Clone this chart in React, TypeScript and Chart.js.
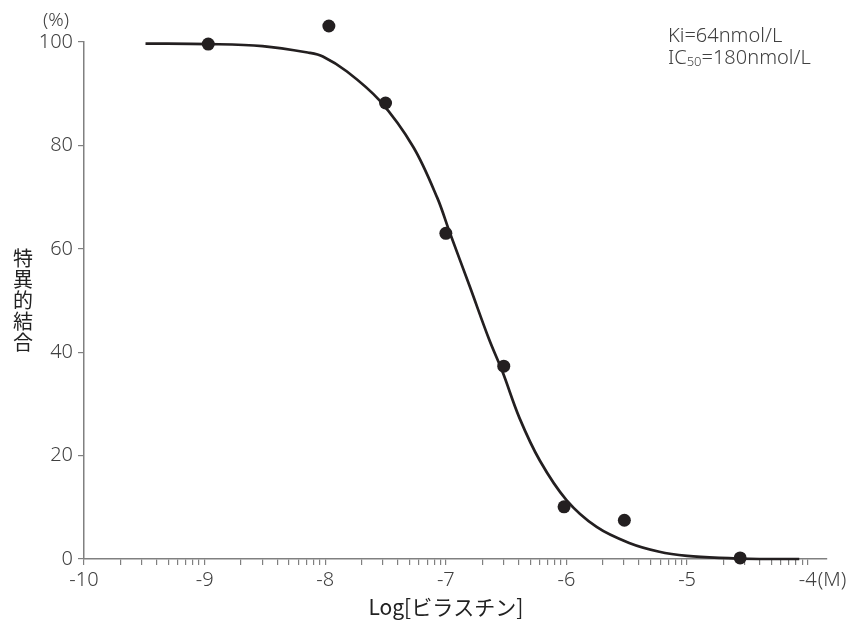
import React, { useEffect, useRef } from "react";
import { Chart, registerables } from "chart.js";

Chart.register(...registerables);

// Measured points: log10 of concentration (M) vs specific binding (%)
const doseLog = [-8.97, -7.97, -7.5, -7.0, -6.52, -6.02, -5.52, -4.56];
const bindingPct = [99.6, 103.1, 88.2, 63.0, 37.3, 10.1, 7.5, 0.2];

// Fitted curve
const curveLog = [-9.49, -8.97, -8.52, -8.13, -8.02, -7.82, -7.55, -7.27, -7.07, -6.97, -6.8, -6.64, -6.53, -6.39, -6.22, -6.0, -5.75, -5.48, -5.23, -5.0, -4.73, -4.4, -4.07];
const curvePct = [99.7, 99.6, 99.2, 97.9, 97.2, 94.3, 88.7, 79.7, 69.8, 63.3, 52.6, 42.4, 36.2, 27.3, 19.0, 11.4, 6.2, 3.1, 1.4, 0.6, 0.2, 0.0, 0.0];

// Axis ticks
const xMajorTicks = [-10, -9, -8, -7, -6, -5, -4];
const xMinorOffsets = [0.301, 0.477, 0.602, 0.699, 0.778, 0.845, 0.903, 0.954];
const yTicks = [0, 20, 40, 60, 80, 100];

const yTitleChars = ["特", "異", "的", "結", "合"];
const xTitle = "Log[ビラスチン]";
const xUnit = "(M)";
const yUnit = "(%)";
const kiText = "Ki=64nmol/L";
const ic50Parts = ["IC", "50", "=180nmol/L"];

const FONT = '"Noto Sans", "Noto Sans CJK JP", sans-serif';
const CJK = '"Noto Sans CJK JP", "Noto Sans", sans-serif';
const INK = "#231f20";
const TEXT = "#404040";
const AXIS = "#808080";
const W = "350";

const textPlugin = {
  id: "texts",
  afterDatasetsDraw(chart: any) {
    // draw data points lying outside the chart area (e.g. above 100%)
    const meta = chart.getDatasetMeta(0);
    const area = chart.chartArea;
    const ctx = chart.ctx;
    meta.data.forEach((el: any) => {
      if (el.y < area.top - 3 || el.y > area.bottom + 3) el.draw(ctx);
    });
  },
  afterDraw(chart: any) {
    const ctx = chart.ctx as CanvasRenderingContext2D;
    const xs = chart.scales.x;
    const ys = chart.scales.y;
    const area = chart.chartArea;
    ctx.save();
    ctx.fillStyle = TEXT;
    ctx.textBaseline = "middle";
    // (%)
    ctx.font = `${W} 19px ${FONT}`;
    ctx.textAlign = "center";
    ctx.fillText(yUnit, 56, ys.getPixelForValue(100) - 21);
    // y title, stacked vertically
    ctx.fillStyle = "#222";
    ctx.font = `400 20px ${CJK}`;
    const midY = (area.top + area.bottom) / 2;
    const step = 21;
    const y0 = midY - ((yTitleChars.length - 1) * step) / 2;
    yTitleChars.forEach((c, i) => ctx.fillText(c, 23, y0 + i * step));
    // x title
    ctx.fillStyle = "#222";
    ctx.font = `400 21px ${CJK}`;
    ctx.fillText(xTitle, (xs.getPixelForValue(-10) + xs.getPixelForValue(-4)) / 2, 607);
    // (M)
    ctx.fillStyle = TEXT;
    ctx.font = `${W} 20px ${FONT}`;
    ctx.textAlign = "left";
    const x4 = xs.getPixelForValue(-4);
    const w4 = ctx.measureText("-4").width;
    ctx.fillText(xUnit, x4 + w4 / 2 + 1, 580);
    // annotation
    ctx.fillStyle = TEXT;
    ctx.font = `${W} 20px ${FONT}`;
    const ax = 668;
    ctx.fillText(kiText, ax, 36);
    let cx = ax;
    ctx.fillText(ic50Parts[0], cx, 58);
    cx += ctx.measureText(ic50Parts[0]).width;
    ctx.font = `${W} 13px ${FONT}`;
    ctx.fillText(ic50Parts[1], cx, 62);
    cx += ctx.measureText(ic50Parts[1]).width;
    ctx.font = `${W} 20px ${FONT}`;
    ctx.fillText(ic50Parts[2], cx, 58);
    ctx.restore();
  },
};

export default function App() {
  const ref = useRef<HTMLCanvasElement | null>(null);
  useEffect(() => {
    if (!ref.current) return;
    const chart = new Chart(ref.current, {
      type: "scatter",
      data: {
        datasets: [
          {
            type: "scatter",
            data: doseLog.map((x, i) => ({ x, y: bindingPct[i] })),
            pointRadius: 6.5,
            pointBackgroundColor: INK,
            pointBorderWidth: 0,
            backgroundColor: INK,
            clip: false as any,
            order: 1,
          } as any,
          {
            type: "line",
            data: curveLog.map((x, i) => ({ x, y: curvePct[i] })),
            borderColor: INK,
            borderWidth: 2.7,
            pointRadius: 0,
            tension: 0.35,
            fill: false,
            clip: false as any,
            order: 2,
          } as any,
        ],
      },
      options: {
        responsive: false,
        animation: false,
        layout: { padding: { left: 0, top: 42, right: 24, bottom: 0 } },
        plugins: {
          legend: { display: false },
          tooltip: { enabled: false },
        },
        scales: {
          x: {
            type: "linear",
            min: -10,
            max: -3.84,
            afterBuildTicks: (scale: any) => {
              const t: { value: number }[] = [];
              xMajorTicks.forEach((m, i) => {
                t.push({ value: m });
                if (i < xMajorTicks.length - 1) xMinorOffsets.forEach((o) => t.push({ value: m + o }));
              });
              scale.ticks = t;
            },
            afterFit: (scale: any) => {
              scale.height = 61;
            },
            ticks: {
              autoSkip: false,
              maxRotation: 0,
              padding: 3,
              color: TEXT,
              font: { family: FONT, size: 20, weight: W as any },
              callback: (v: any) => (xMajorTicks.includes(Number(v)) ? String(v) : ""),
            },
            grid: { drawOnChartArea: false, drawTicks: true, tickLength: 6, color: AXIS, lineWidth: 1.2 },
            border: { display: true, color: AXIS, width: 1.5 },
          },
          y: {
            type: "linear",
            min: 0,
            max: 100,
            afterBuildTicks: (scale: any) => {
              scale.ticks = yTicks.map((v) => ({ value: v }));
            },
            afterFit: (scale: any) => {
              scale.width = 84;
            },
            ticks: {
              padding: 5,
              color: TEXT,
              font: { family: FONT, size: 20, weight: W as any },
            },
            grid: { drawOnChartArea: false, drawTicks: true, tickLength: 6, color: AXIS, lineWidth: 1.2 },
            border: { display: true, color: AXIS, width: 1.5 },
          },
        },
      },
      plugins: [textPlugin],
    } as any);
    return () => chart.destroy();
  }, []);
  return (
    <div style={{ position: "fixed", left: 0, top: 0, width: 851, height: 620, background: "#fff" }}>
      <canvas ref={ref} width={851} height={620} />
    </div>
  );
}
